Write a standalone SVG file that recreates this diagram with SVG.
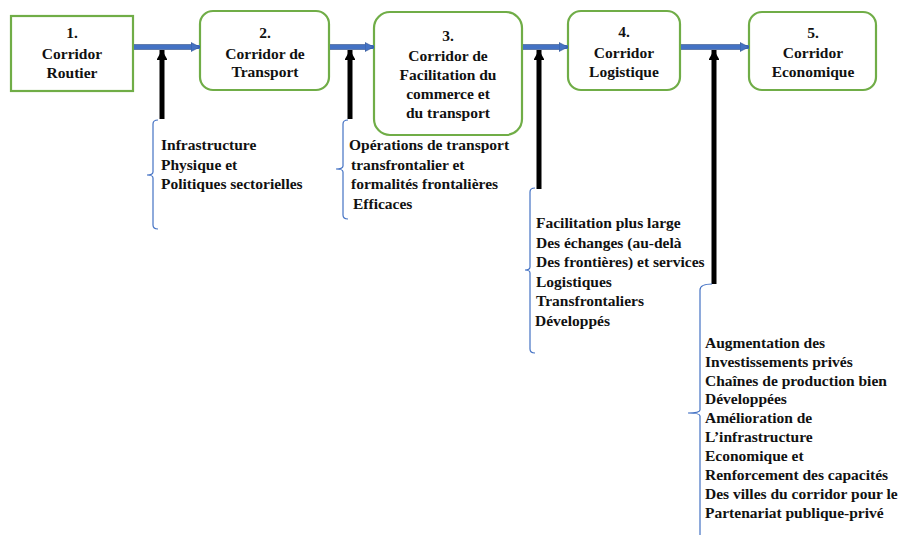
<svg xmlns="http://www.w3.org/2000/svg" width="903" height="535" viewBox="0 0 903 535">
<defs>
<style>
.box{fill:#fff;stroke:#70AD47;stroke-width:2.2}
.t{font-family:'Liberation Serif','DejaVu Serif',serif;font-weight:bold;font-size:15.5px;fill:#111}
.c{text-anchor:middle}
.flow{stroke:#4472C4;stroke-width:4;fill:none}
.flowb{stroke:#2F528F;stroke-width:5.5;fill:none}
.up{stroke:#000;stroke-width:5;fill:none}
.br{stroke:#4472C4;stroke-width:1.2;fill:none}
</style>
<marker id="ah" markerUnits="userSpaceOnUse" markerWidth="10" markerHeight="12" refX="9" refY="6" orient="auto">
<path d="M0,1.5 L9,6 L0,10.5 Z" fill="#4472C4" stroke="#2F528F" stroke-width="0.6"/>
</marker>
<marker id="bh" markerUnits="userSpaceOnUse" markerWidth="12" markerHeight="10" refX="10" refY="5.5" orient="auto">
<path d="M0,0 L10,5.5 L0,11 Z" fill="#000"/>
</marker>
</defs>
<rect width="903" height="535" fill="#fff"/>

<g font-family="Liberation Serif, DejaVu Serif, serif">
<g id="node1">
<rect class="box" x="11" y="16" width="122" height="75"/>
<text class="t c" x="72" y="38">1.</text>
<text class="t c" x="72" y="59">Corridor</text>
<text class="t c" x="72" y="78">Routier</text>
</g>
<g id="node2">
<rect class="box" x="200" y="11" width="129" height="79" rx="13"/>
<text class="t c" x="265" y="38">2.</text>
<text class="t c" x="265" y="59">Corridor de</text>
<text class="t c" x="265" y="77">Transport</text>
</g>
<g id="node3">
<rect class="box" x="374" y="12" width="148" height="123" rx="16"/>
<text class="t c" x="448" y="41">3.</text>
<text class="t c" x="448" y="61">Corridor de</text>
<text class="t c" x="448" y="80">Facilitation du</text>
<text class="t c" x="448" y="99">commerce et</text>
<text class="t c" x="448" y="118">du transport</text>
</g>
<g id="node4">
<rect class="box" x="568" y="11" width="112" height="79" rx="13"/>
<text class="t c" x="624" y="37">4.</text>
<text class="t c" x="624" y="58">Corridor</text>
<text class="t c" x="624" y="77">Logistique</text>
</g>
<g id="node5">
<rect class="box" x="749" y="12" width="127" height="78" rx="13"/>
<text class="t c" x="813" y="38">5.</text>
<text class="t c" x="813" y="58">Corridor</text>
<text class="t c" x="813" y="77">Economique</text>
</g>

<g id="label1">
<text class="t" x="161" y="150">Infrastructure</text>
<text class="t" x="161" y="170">Physique et</text>
<text class="t" x="161" y="189">Politiques sectorielles</text>
</g>
<g id="label2">
<text class="t" x="349" y="150">Opérations de transport</text>
<text class="t" x="351" y="170">transfrontalier et</text>
<text class="t" x="351" y="189">formalités frontalières</text>
<text class="t" x="353" y="209">Efficaces</text>
</g>
<g id="label3">
<text class="t" x="536" y="228">Facilitation plus large</text>
<text class="t" x="536" y="248">Des échanges (au-delà</text>
<text class="t" x="536" y="267">Des frontières) et services</text>
<text class="t" x="536" y="287">Logistiques</text>
<text class="t" x="536" y="306">Transfrontaliers</text>
<text class="t" x="535" y="326">Développés</text>
</g>
<g id="label4">
<text class="t" x="705" y="348">Augmentation des</text>
<text class="t" x="705" y="367">Investissements privés</text>
<text class="t" x="705" y="386">Chaînes de production bien</text>
<text class="t" x="705" y="404">Développées</text>
<text class="t" x="705" y="423">Amélioration de</text>
<text class="t" x="705" y="442">L’infrastructure</text>
<text class="t" x="705" y="461">Economique et</text>
<text class="t" x="705" y="480">Renforcement des capacités</text>
<text class="t" x="705" y="499">Des villes du corridor pour le</text>
<text class="t" x="705" y="518">Partenariat publique-privé</text>
</g>
</g>

<g id="connectors">
<line class="flowb" x1="134" y1="47" x2="193" y2="47"/>
<line class="flow" x1="134" y1="47" x2="200" y2="47" marker-end="url(#ah)"/>
<line class="flowb" x1="330" y1="47" x2="367" y2="47"/>
<line class="flow" x1="330" y1="47" x2="374" y2="47" marker-end="url(#ah)"/>
<line class="flowb" x1="523" y1="47" x2="561" y2="47"/>
<line class="flow" x1="523" y1="47" x2="568" y2="47" marker-end="url(#ah)"/>
<line class="flowb" x1="681" y1="47" x2="742" y2="47"/>
<line class="flow" x1="681" y1="47" x2="749" y2="47" marker-end="url(#ah)"/>

<line class="up" x1="162" y1="119" x2="162" y2="50" marker-end="url(#bh)"/>
<line class="up" x1="350" y1="119" x2="350" y2="50" marker-end="url(#bh)"/>
<line class="up" x1="539" y1="189" x2="539" y2="50" marker-end="url(#bh)"/>
<line class="up" x1="714" y1="284" x2="714" y2="50" marker-end="url(#bh)"/>

<path class="br" d="M158,120 Q153,120 153,124 L153,172 Q153,175 147,175 Q153,175 153,178 L153,225 Q153,229 158,229"/>
<path class="br" d="M348,120 Q343,120 343,124 L343,166 Q343,169 336,169 Q343,169 343,172 L343,215 Q343,219 348,219"/>
<path class="br" d="M535,188 Q530,188 530,192 L530,267 Q530,270 525,270 Q530,270 530,273 L530,349 Q530,353 535,353"/>
<path class="br" d="M712,284 Q700,284 700,290 L700,410 Q700,413 688,413 Q700,413 700,416 L700,540"/>
</g>
</svg>
